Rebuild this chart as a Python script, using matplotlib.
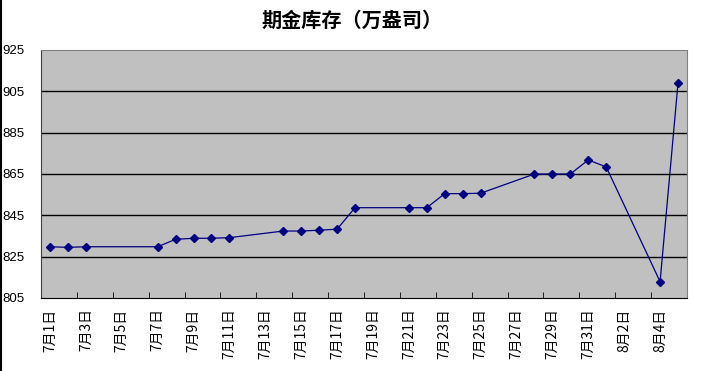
import numpy as np
import pandas as pd
import matplotlib
matplotlib.use("Agg")
import matplotlib.pyplot as plt
import matplotlib.dates as mdates
from matplotlib.lines import Line2D

plt.rcParams['font.family'] = ['Noto Sans CJK SC', 'DejaVu Sans']

# data
dates = ["7-1", "7-2", "7-3", "7-7", "7-8", "7-9", "7-10", "7-11",
         "7-14", "7-15", "7-16", "7-17", "7-18", "7-21", "7-22",
         "7-23", "7-24", "7-25", "7-28", "7-29", "7-30", "7-31",
         "8-1", "8-4", "8-5"]
stock = [829.8, 829.5, 829.8, 829.8, 833.4, 833.9, 833.9, 834.2,
         837.4, 837.4, 837.8, 838.3, 848.7, 848.7, 848.7,
         855.5, 855.5, 855.7, 865.0, 865.0, 865.0, 871.8,
         868.4, 812.9, 909.0]
yticks = [805, 825, 845, 865, 885, 905, 925]

x = pd.to_datetime(["2008-" + d for d in dates])
label_days = pd.date_range("2008-07-01", "2008-08-04", freq="2D")
tick_labels = [f"{d.month}月{d.day}日" for d in label_days]
minor_days = label_days[1:] - pd.Timedelta(hours=12)

fig = plt.figure(figsize=(7.06, 3.71), dpi=100)
ax = fig.add_axes([41/706, 1-298/371, 646/706, 248/371])
ax.set_facecolor("#c0c0c0")

ax.plot(x, stock, color="#000080", lw=0.9, marker="D", ms=4.5,
        mfc="#000080", mec="#000080")

ax.set_ylim(805, 925)
ax.set_yticks(yticks)
ax.set_yticklabels([str(v) for v in yticks], fontsize=9.5, family="Liberation Sans")
for v in yticks[1:-1]:
    ax.axhline(v, color="black", lw=1, zorder=1)

start = pd.Timestamp("2008-07-01") - pd.Timedelta(hours=12)
end = pd.Timestamp("2008-08-05") + pd.Timedelta(hours=12)
ax.set_xlim(start, end)
ax.set_xticks(label_days)
ax.set_xticklabels(tick_labels, rotation=90, fontsize=10)
ax.set_xticks(minor_days, minor=True)
ax.tick_params(axis="x", which="major", length=0, pad=7.5)
ax.tick_params(axis="x", which="minor", length=4, direction="in", color="black")
ax.tick_params(axis="y", length=0, pad=12)

for s in ["top", "right"]:
    ax.spines[s].set_color("#808080")
ax.spines["left"].set_color("#404040")
ax.spines["bottom"].set_color("black")

fig.text(0.4986, 1-20/371, "期金库存（万盎司）", ha="center", va="center",
         fontsize=14.5, fontweight="bold")
fig.add_artist(Line2D([0.001, 0.001], [0, 1], color="black", lw=1.5))

fig.savefig("out.png", dpi=100)
